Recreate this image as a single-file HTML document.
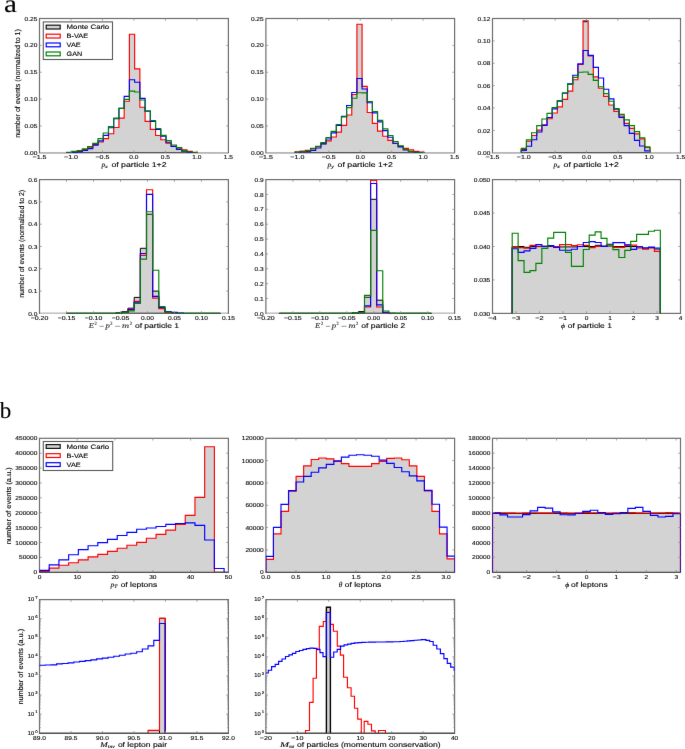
<!DOCTYPE html>
<html><head><meta charset="utf-8"><style>
html,body{margin:0;padding:0;background:#fff;}
svg{display:block;}
text{text-rendering:geometricPrecision;stroke:currentColor;stroke-width:0.12px;}
#w{width:685px;height:749px;}
</style></head><body><div id="w">
<svg width="685" height="749" viewBox="0 0 685 749">
<defs><filter id="bl" x="0" y="0" width="685" height="749" filterUnits="userSpaceOnUse" primitiveUnits="userSpaceOnUse" color-interpolation-filters="sRGB"><feConvolveMatrix order="3" kernelMatrix="0.0028 0.0470 0.0028 0.0470 0.8008 0.0470 0.0028 0.0470 0.0028" edgeMode="duplicate" preserveAlpha="true"/></filter></defs>
<g filter="url(#bl)"><rect width="685" height="749" fill="#fff"/>
<text x="4.1" y="11.9" font-family="Liberation Serif" font-size="25" textLength="12.9" lengthAdjust="spacingAndGlyphs" fill="#000">a</text>
<text x="-0.3" y="418" font-family="Liberation Serif" font-size="23" fill="#000">b</text>
<rect x="39.5" y="18.5" width="188.9" height="134.3" fill="none" stroke="#6e6e6e" stroke-width="1.2"/>
<line x1="40.1" y1="152.8" x2="227.8" y2="152.8" stroke="#c4c4c4" stroke-width="1.2"/>
<clipPath id="c1"><rect x="39.5" y="18.5" width="188.9" height="134.3"/></clipPath>
<g clip-path="url(#c1)">
<path d="M66.64,152.8V152.6H71.87V152H77.1V151.5H82.33V149.6H87.56V147.2H92.79V144.3H98.02V142H103.25V138.6H108.48V133.7H113.71V127.5H118.94V118.1H124.17V101.2H129.4V34.2H134.63V68.9H139.86V107.2H145.09V121.3H150.32V129.4H155.55V135.5H160.78V139.7H166.01V143.1H171.24V146.3H176.47V148.2H181.7V149.8H186.93V151.4H192.16V152.2H197.39V152.8Z" fill="#d3d3d3" stroke="none"/>
<path d="M66.64,152.8H197.39" stroke="#000" stroke-width="1.1"/>
<path d="M66.64,152.8V152.6H71.87V152H77.1V151.5H82.33V149.6H87.56V147.2H92.79V144.3H98.02V142H103.25V138.6H108.48V133.7H113.71V127.5H118.94V118.1H124.17V101.2H129.4V34.2H134.63V68.9H139.86V107.2H145.09V121.3H150.32V129.4H155.55V135.5H160.78V139.7H166.01V143.1H171.24V146.3H176.47V148.2H181.7V149.8H186.93V151.4H192.16V152.2H197.39V152.8" fill="none" stroke="#ff0000" stroke-width="1.15" stroke-linejoin="miter"/>
<path d="M66.64,152.8V152.7H71.87V152.3H77.1V152H82.33V150.3H87.56V148.6H92.79V145.1H98.02V140.8H103.25V135.3H108.48V127.7H113.71V118.7H118.94V108.3H124.17V96.4H129.4V79.7H134.63V82.2H139.86V98.3H145.09V111.1H150.32V121.3H155.55V129.5H160.78V136.1H166.01V142.2H171.24V146.3H176.47V149.5H181.7V151.1H186.93V152.3H192.16V152.6H197.39V152.8" fill="none" stroke="#0000ff" stroke-width="1.15" stroke-linejoin="miter"/>
<path d="M66.64,152.8V152.2H71.87V151.3H77.1V150.5H82.33V148.8H87.56V146.5H92.79V143.4H98.02V138.6H103.25V133H108.48V126.6H113.71V118.1H118.94V108.3H124.17V99.3H129.4V91.1H134.63V92H139.86V100H145.09V111.1H150.32V120.5H155.55V128.5H160.78V135.3H166.01V140.6H171.24V145H176.47V147.6H181.7V151.1H186.93V152H192.16V152.5H197.39V152.8" fill="none" stroke="#008000" stroke-width="1.15" stroke-linejoin="miter"/>
</g>
<rect x="265.9" y="18.5" width="188.7" height="134.3" fill="none" stroke="#6e6e6e" stroke-width="1.2"/>
<line x1="266.5" y1="152.8" x2="454" y2="152.8" stroke="#c4c4c4" stroke-width="1.2"/>
<clipPath id="c2"><rect x="265.9" y="18.5" width="188.7" height="134.3"/></clipPath>
<g clip-path="url(#c2)">
<path d="M295.1,152.8V151.8H300.25V151.1H305.4V150.3H310.56V148.6H315.71V146.5H320.86V143.6H326.01V140.8H331.16V137H336.32V132.1H341.47V125.3H346.62V115H351.77V94.5H356.92V24.2H362.08V86.3H367.23V112.5H372.38V123.4H377.53V131.1H382.68V136.2H387.84V140.3H392.99V143.5H398.14V146.4H403.29V148.3H408.44V149.8H413.6V151.3H418.75V152H423.9V152.8Z" fill="#d3d3d3" stroke="none"/>
<path d="M295.1,152.8H423.9" stroke="#000" stroke-width="1.1"/>
<path d="M295.1,152.8V151.8H300.25V151.1H305.4V150.3H310.56V148.6H315.71V146.5H320.86V143.6H326.01V140.8H331.16V137H336.32V132.1H341.47V125.3H346.62V115H351.77V94.5H356.92V24.2H362.08V86.3H367.23V112.5H372.38V123.4H377.53V131.1H382.68V136.2H387.84V140.3H392.99V143.5H398.14V146.4H403.29V148.3H408.44V149.8H413.6V151.3H418.75V152H423.9V152.8" fill="none" stroke="#ff0000" stroke-width="1.15" stroke-linejoin="miter"/>
<path d="M295.1,152.8V152.5H300.25V152H305.4V151.6H310.56V150.3H315.71V148H320.86V143.9H326.01V139H331.16V132.9H336.32V125.3H341.47V116.4H346.62V105.5H351.77V92.5H356.92V78.5H362.08V89H367.23V102.7H372.38V112.9H377.53V121.9H382.68V130.6H387.84V137.2H392.99V143.2H398.14V146.9H403.29V150H408.44V151.5H413.6V152.2H418.75V152.6H423.9V152.8" fill="none" stroke="#0000ff" stroke-width="1.15" stroke-linejoin="miter"/>
<path d="M295.1,152.8V152.1H300.25V151.7H305.4V151H310.56V148.2H315.71V146.2H320.86V142.6H326.01V137.5H331.16V131.4H336.32V124.5H341.47V116.8H346.62V107.6H351.77V98.2H356.92V92.7H362.08V92.8H367.23V101.5H372.38V111.5H377.53V120.4H382.68V128.8H387.84V135.5H392.99V141.6H398.14V145.7H403.29V149.5H408.44V151.5H413.6V152H418.75V152.5H423.9V152.8" fill="none" stroke="#008000" stroke-width="1.15" stroke-linejoin="miter"/>
</g>
<rect x="492.5" y="18.5" width="188" height="134.3" fill="none" stroke="#6e6e6e" stroke-width="1.2"/>
<line x1="493.1" y1="152.8" x2="679.9" y2="152.8" stroke="#c4c4c4" stroke-width="1.2"/>
<clipPath id="c3"><rect x="492.5" y="18.5" width="188" height="134.3"/></clipPath>
<g clip-path="url(#c3)">
<path d="M521.3,152.8V149.4H526.44V141.2H531.59V135.5H536.73V130.1H541.88V124.7H547.02V118.7H552.16V113H557.31V106.9H562.45V99.3H567.6V91.1H572.74V79.7H577.88V64.5H583.03V20.7H588.17V55.9H593.32V76.9H598.46V88.2H603.6V96.4H608.75V105H613.89V111.4H619.04V116H624.18V123.3H629.32V128.4H634.47V133.8H639.61V138.9H644.76V147.5H649.9V152.8Z" fill="#d3d3d3" stroke="none"/>
<path d="M521.3,152.8H649.9" stroke="#000" stroke-width="1.1"/>
<path d="M521.3,152.8V149.4H526.44V141.2H531.59V135.5H536.73V130.1H541.88V124.7H547.02V118.7H552.16V113H557.31V106.9H562.45V99.3H567.6V91.1H572.74V79.7H577.88V64.5H583.03V20.7H588.17V55.9H593.32V76.9H598.46V88.2H603.6V96.4H608.75V105H613.89V111.4H619.04V116H624.18V123.3H629.32V128.4H634.47V133.8H639.61V138.9H644.76V147.5H649.9V152.8" fill="none" stroke="#ff0000" stroke-width="1.15" stroke-linejoin="miter"/>
<path d="M521.3,152.8V150.3H526.44V146.2H531.59V139.7H536.73V132H541.88V125.3H547.02V117.5H552.16V108.8H557.31V101.2H562.45V93.2H567.6V83.8H572.74V75.2H577.88V63.8H583.03V50.5H588.17V55.3H593.32V67.4H598.46V78H603.6V89.2H608.75V98.8H613.89V109.2H619.04V117.4H624.18V125.6H629.32V133.3H634.47V140.4H639.61V146H644.76V150.8H649.9V152.8" fill="none" stroke="#0000ff" stroke-width="1.15" stroke-linejoin="miter"/>
<path d="M521.3,152.8V148.4H526.44V139.9H531.59V132.7H536.73V125.6H541.88V119H547.02V113.3H552.16V107.6H557.31V100.6H562.45V92.7H567.6V84.4H572.74V77.3H577.88V72.2H583.03V72H588.17V74.3H593.32V80.3H598.46V86.7H603.6V93.6H608.75V101.2H613.89V108.6H619.04V114.3H624.18V119.9H629.32V125.6H634.47V131.6H639.61V137.7H644.76V146.8H649.9V152.8" fill="none" stroke="#008000" stroke-width="1.15" stroke-linejoin="miter"/>
</g>
<path d="M583.4,21.7H587.5" stroke="#000" stroke-width="0.9"/>
<path d="M70.98,152.8v-2.2M70.98,18.5v2.2M102.47,152.8v-2.2M102.47,18.5v2.2M133.95,152.8v-2.2M133.95,18.5v2.2M165.43,152.8v-2.2M165.43,18.5v2.2M196.92,152.8v-2.2M196.92,18.5v2.2M39.5,125.94h2.2M228.4,125.94h-2.2M39.5,99.08h2.2M228.4,99.08h-2.2M39.5,72.22h2.2M228.4,72.22h-2.2M39.5,45.36h2.2M228.4,45.36h-2.2" stroke="#8a8a8a" stroke-width="0.8" fill="none"/>
<text x="39.5" y="159.2" font-family="Liberation Sans" font-size="5.8" text-anchor="middle" textLength="13.96" lengthAdjust="spacingAndGlyphs" fill="#000" fill-opacity="0.95">−1.5</text>
<text x="70.98" y="159.2" font-family="Liberation Sans" font-size="5.8" text-anchor="middle" textLength="13.96" lengthAdjust="spacingAndGlyphs" fill="#000" fill-opacity="0.95">−1.0</text>
<text x="102.47" y="159.2" font-family="Liberation Sans" font-size="5.8" text-anchor="middle" textLength="13.96" lengthAdjust="spacingAndGlyphs" fill="#000" fill-opacity="0.95">−0.5</text>
<text x="133.95" y="159.2" font-family="Liberation Sans" font-size="5.8" text-anchor="middle" textLength="9.14" lengthAdjust="spacingAndGlyphs" fill="#000" fill-opacity="0.95">0.0</text>
<text x="165.43" y="159.2" font-family="Liberation Sans" font-size="5.8" text-anchor="middle" textLength="9.14" lengthAdjust="spacingAndGlyphs" fill="#000" fill-opacity="0.95">0.5</text>
<text x="196.92" y="159.2" font-family="Liberation Sans" font-size="5.8" text-anchor="middle" textLength="9.14" lengthAdjust="spacingAndGlyphs" fill="#000" fill-opacity="0.95">1.0</text>
<text x="228.4" y="159.2" font-family="Liberation Sans" font-size="5.8" text-anchor="middle" textLength="9.14" lengthAdjust="spacingAndGlyphs" fill="#000" fill-opacity="0.95">1.5</text>
<text x="37.3" y="154.9" font-family="Liberation Sans" font-size="5.8" text-anchor="end" textLength="12.8" lengthAdjust="spacingAndGlyphs" fill="#000" fill-opacity="0.95">0.00</text>
<text x="37.3" y="128.04" font-family="Liberation Sans" font-size="5.8" text-anchor="end" textLength="12.8" lengthAdjust="spacingAndGlyphs" fill="#000" fill-opacity="0.95">0.05</text>
<text x="37.3" y="101.18" font-family="Liberation Sans" font-size="5.8" text-anchor="end" textLength="12.8" lengthAdjust="spacingAndGlyphs" fill="#000" fill-opacity="0.95">0.10</text>
<text x="37.3" y="74.32" font-family="Liberation Sans" font-size="5.8" text-anchor="end" textLength="12.8" lengthAdjust="spacingAndGlyphs" fill="#000" fill-opacity="0.95">0.15</text>
<text x="37.3" y="47.46" font-family="Liberation Sans" font-size="5.8" text-anchor="end" textLength="12.8" lengthAdjust="spacingAndGlyphs" fill="#000" fill-opacity="0.95">0.20</text>
<text x="37.3" y="20.6" font-family="Liberation Sans" font-size="5.8" text-anchor="end" textLength="12.8" lengthAdjust="spacingAndGlyphs" fill="#000" fill-opacity="0.95">0.25</text>
<path d="M297.35,152.8v-2.2M297.35,18.5v2.2M328.8,152.8v-2.2M328.8,18.5v2.2M360.25,152.8v-2.2M360.25,18.5v2.2M391.7,152.8v-2.2M391.7,18.5v2.2M423.15,152.8v-2.2M423.15,18.5v2.2M265.9,125.94h2.2M454.6,125.94h-2.2M265.9,99.08h2.2M454.6,99.08h-2.2M265.9,72.22h2.2M454.6,72.22h-2.2M265.9,45.36h2.2M454.6,45.36h-2.2" stroke="#8a8a8a" stroke-width="0.8" fill="none"/>
<text x="265.9" y="159.2" font-family="Liberation Sans" font-size="5.8" text-anchor="middle" textLength="13.96" lengthAdjust="spacingAndGlyphs" fill="#000" fill-opacity="0.95">−1.5</text>
<text x="297.35" y="159.2" font-family="Liberation Sans" font-size="5.8" text-anchor="middle" textLength="13.96" lengthAdjust="spacingAndGlyphs" fill="#000" fill-opacity="0.95">−1.0</text>
<text x="328.8" y="159.2" font-family="Liberation Sans" font-size="5.8" text-anchor="middle" textLength="13.96" lengthAdjust="spacingAndGlyphs" fill="#000" fill-opacity="0.95">−0.5</text>
<text x="360.25" y="159.2" font-family="Liberation Sans" font-size="5.8" text-anchor="middle" textLength="9.14" lengthAdjust="spacingAndGlyphs" fill="#000" fill-opacity="0.95">0.0</text>
<text x="391.7" y="159.2" font-family="Liberation Sans" font-size="5.8" text-anchor="middle" textLength="9.14" lengthAdjust="spacingAndGlyphs" fill="#000" fill-opacity="0.95">0.5</text>
<text x="423.15" y="159.2" font-family="Liberation Sans" font-size="5.8" text-anchor="middle" textLength="9.14" lengthAdjust="spacingAndGlyphs" fill="#000" fill-opacity="0.95">1.0</text>
<text x="454.6" y="159.2" font-family="Liberation Sans" font-size="5.8" text-anchor="middle" textLength="9.14" lengthAdjust="spacingAndGlyphs" fill="#000" fill-opacity="0.95">1.5</text>
<text x="263.7" y="154.9" font-family="Liberation Sans" font-size="5.8" text-anchor="end" textLength="12.8" lengthAdjust="spacingAndGlyphs" fill="#000" fill-opacity="0.95">0.00</text>
<text x="263.7" y="128.04" font-family="Liberation Sans" font-size="5.8" text-anchor="end" textLength="12.8" lengthAdjust="spacingAndGlyphs" fill="#000" fill-opacity="0.95">0.05</text>
<text x="263.7" y="101.18" font-family="Liberation Sans" font-size="5.8" text-anchor="end" textLength="12.8" lengthAdjust="spacingAndGlyphs" fill="#000" fill-opacity="0.95">0.10</text>
<text x="263.7" y="74.32" font-family="Liberation Sans" font-size="5.8" text-anchor="end" textLength="12.8" lengthAdjust="spacingAndGlyphs" fill="#000" fill-opacity="0.95">0.15</text>
<text x="263.7" y="47.46" font-family="Liberation Sans" font-size="5.8" text-anchor="end" textLength="12.8" lengthAdjust="spacingAndGlyphs" fill="#000" fill-opacity="0.95">0.20</text>
<text x="263.7" y="20.6" font-family="Liberation Sans" font-size="5.8" text-anchor="end" textLength="12.8" lengthAdjust="spacingAndGlyphs" fill="#000" fill-opacity="0.95">0.25</text>
<path d="M523.83,152.8v-2.2M523.83,18.5v2.2M555.17,152.8v-2.2M555.17,18.5v2.2M586.5,152.8v-2.2M586.5,18.5v2.2M617.83,152.8v-2.2M617.83,18.5v2.2M649.17,152.8v-2.2M649.17,18.5v2.2M492.5,130.42h2.2M680.5,130.42h-2.2M492.5,108.03h2.2M680.5,108.03h-2.2M492.5,85.65h2.2M680.5,85.65h-2.2M492.5,63.27h2.2M680.5,63.27h-2.2M492.5,40.88h2.2M680.5,40.88h-2.2" stroke="#8a8a8a" stroke-width="0.8" fill="none"/>
<text x="492.5" y="159.2" font-family="Liberation Sans" font-size="5.8" text-anchor="middle" textLength="13.96" lengthAdjust="spacingAndGlyphs" fill="#000" fill-opacity="0.95">−1.5</text>
<text x="523.83" y="159.2" font-family="Liberation Sans" font-size="5.8" text-anchor="middle" textLength="13.96" lengthAdjust="spacingAndGlyphs" fill="#000" fill-opacity="0.95">−1.0</text>
<text x="555.17" y="159.2" font-family="Liberation Sans" font-size="5.8" text-anchor="middle" textLength="13.96" lengthAdjust="spacingAndGlyphs" fill="#000" fill-opacity="0.95">−0.5</text>
<text x="586.5" y="159.2" font-family="Liberation Sans" font-size="5.8" text-anchor="middle" textLength="9.14" lengthAdjust="spacingAndGlyphs" fill="#000" fill-opacity="0.95">0.0</text>
<text x="617.83" y="159.2" font-family="Liberation Sans" font-size="5.8" text-anchor="middle" textLength="9.14" lengthAdjust="spacingAndGlyphs" fill="#000" fill-opacity="0.95">0.5</text>
<text x="649.17" y="159.2" font-family="Liberation Sans" font-size="5.8" text-anchor="middle" textLength="9.14" lengthAdjust="spacingAndGlyphs" fill="#000" fill-opacity="0.95">1.0</text>
<text x="680.5" y="159.2" font-family="Liberation Sans" font-size="5.8" text-anchor="middle" textLength="9.14" lengthAdjust="spacingAndGlyphs" fill="#000" fill-opacity="0.95">1.5</text>
<text x="490.3" y="154.9" font-family="Liberation Sans" font-size="5.8" text-anchor="end" textLength="12.8" lengthAdjust="spacingAndGlyphs" fill="#000" fill-opacity="0.95">0.00</text>
<text x="490.3" y="132.52" font-family="Liberation Sans" font-size="5.8" text-anchor="end" textLength="12.8" lengthAdjust="spacingAndGlyphs" fill="#000" fill-opacity="0.95">0.02</text>
<text x="490.3" y="110.13" font-family="Liberation Sans" font-size="5.8" text-anchor="end" textLength="12.8" lengthAdjust="spacingAndGlyphs" fill="#000" fill-opacity="0.95">0.04</text>
<text x="490.3" y="87.75" font-family="Liberation Sans" font-size="5.8" text-anchor="end" textLength="12.8" lengthAdjust="spacingAndGlyphs" fill="#000" fill-opacity="0.95">0.06</text>
<text x="490.3" y="65.37" font-family="Liberation Sans" font-size="5.8" text-anchor="end" textLength="12.8" lengthAdjust="spacingAndGlyphs" fill="#000" fill-opacity="0.95">0.08</text>
<text x="490.3" y="42.98" font-family="Liberation Sans" font-size="5.8" text-anchor="end" textLength="12.8" lengthAdjust="spacingAndGlyphs" fill="#000" fill-opacity="0.95">0.10</text>
<text x="490.3" y="20.6" font-family="Liberation Sans" font-size="5.8" text-anchor="end" textLength="12.8" lengthAdjust="spacingAndGlyphs" fill="#000" fill-opacity="0.95">0.12</text>
<rect x="39.5" y="179.6" width="188.9" height="133.8" fill="none" stroke="#6e6e6e" stroke-width="1.2"/>
<line x1="40.1" y1="313.4" x2="227.8" y2="313.4" stroke="#c4c4c4" stroke-width="1.2"/>
<clipPath id="c4"><rect x="39.5" y="179.6" width="188.9" height="133.8"/></clipPath>
<g clip-path="url(#c4)">
<path d="M66.55,313.4V314.3H72.7V314.3H78.85V314.3H85V314.3H91.15V314.3H97.3V314.3H103.45V314.3H109.6V314.3H115.75V312.9H121.9V311.7H128.05V308.2H134.2V297.4H140.35V248.3H146.5V214.2H152.65V291.1H158.8V308H164.95V312H171.1V312.9H177.25V314.3H183.4V314.3H189.55V314.3H195.7V314.3H201.85V314.3H208V314.3H214.15V314.3H220.3V313.4Z" fill="#d3d3d3" stroke="none"/>
<path d="M66.55,313.4H220.3" stroke="#000" stroke-width="1.1"/>
<path d="M66.55,313.4V314.3H72.7V314.3H78.85V314.3H85V314.3H91.15V314.3H97.3V314.3H103.45V314.3H109.6V314.3H115.75V312.9H121.9V311.7H128.05V308.2H134.2V297.4H140.35V248.3H146.5V214.2H152.65V291.1H158.8V308H164.95V312H171.1V312.9H177.25V314.3H183.4V314.3H189.55V314.3H195.7V314.3H201.85V314.3H208V314.3H214.15V314.3H220.3V313.4" fill="none" stroke="#000" stroke-width="1.0" stroke-linejoin="miter"/>
<path d="M66.55,313.4V314.3H72.7V314.3H78.85V314.3H85V314.3H91.15V314.3H97.3V314.3H103.45V314.3H109.6V314.3H115.75V314.3H121.9V312.4H128.05V308.75H134.2V301.3H140.35V255.4H146.5V189.7H152.65V298.1H158.8V308.6H164.95V312.3H171.1V313H177.25V314.3H183.4V314.3H189.55V314.3H195.7V314.3H201.85V314.3H208V314.3H214.15V314.3H220.3V313.4" fill="none" stroke="#ff0000" stroke-width="1.15" stroke-linejoin="miter"/>
<path d="M66.55,313.4V314.3H72.7V314.3H78.85V314.3H85V314.3H91.15V314.3H97.3V314.3H103.45V314.3H109.6V314.3H115.75V314.3H121.9V312.4H128.05V309.6H134.2V302.2H140.35V253.5H146.5V194.3H152.65V296.4H158.8V307.4H164.95V311.5H171.1V312.4H177.25V313H183.4V314.3H189.55V314.3H195.7V314.3H201.85V314.3H208V314.3H214.15V314.3H220.3V313.4" fill="none" stroke="#0000ff" stroke-width="1.15" stroke-linejoin="miter"/>
<path d="M66.55,313.4V313.4H72.7V313.4H78.85V313.4H85V313.4H91.15V313.4H97.3V313.4H103.45V313.4H109.6V313.4H115.75V313.4H121.9V312.4H128.05V310.8H134.2V303.5H140.35V259.1H146.5V211.7H152.65V270.2H158.8V306.6H164.95V312.1H171.1V313H177.25V313.4H183.4V313.4H189.55V313.4H195.7V313.4H201.85V313.4H208V313.4H214.15V313.4H220.3V313.4" fill="none" stroke="#008000" stroke-width="1.15" stroke-linejoin="miter"/>
</g>
<rect x="265.9" y="179.6" width="188.7" height="133.8" fill="none" stroke="#6e6e6e" stroke-width="1.2"/>
<line x1="266.5" y1="313.4" x2="454" y2="313.4" stroke="#c4c4c4" stroke-width="1.2"/>
<clipPath id="c5"><rect x="265.9" y="179.6" width="188.7" height="133.8"/></clipPath>
<g clip-path="url(#c5)">
<path d="M279.3,313.4V314.3H285.38V314.3H291.47V314.3H297.56V314.3H303.64V314.3H309.73V314.3H315.81V314.3H321.89V314.3H327.98V314.3H334.06V314.3H340.15V314.3H346.24V314.3H352.32V313H358.41V311.6H364.49V297.2H370.58V199.3H376.66V300.2H382.75V312.5H388.83V314.3H394.92V314.3H401V314.3H407.09V314.3H413.17V314.3H419.25V314.3H425.34V314.3H431.43V313.4Z" fill="#d3d3d3" stroke="none"/>
<path d="M279.3,313.4H431.43" stroke="#000" stroke-width="1.1"/>
<path d="M279.3,313.4V314.3H285.38V314.3H291.47V314.3H297.56V314.3H303.64V314.3H309.73V314.3H315.81V314.3H321.89V314.3H327.98V314.3H334.06V314.3H340.15V314.3H346.24V314.3H352.32V313H358.41V311.6H364.49V297.2H370.58V199.3H376.66V300.2H382.75V312.5H388.83V314.3H394.92V314.3H401V314.3H407.09V314.3H413.17V314.3H419.25V314.3H425.34V314.3H431.43V313.4" fill="none" stroke="#000" stroke-width="1.0" stroke-linejoin="miter"/>
<path d="M279.3,313.4V314.3H285.38V314.3H291.47V314.3H297.56V314.3H303.64V314.3H309.73V314.3H315.81V314.3H321.89V314.3H327.98V314.3H334.06V314.3H340.15V314.3H346.24V314.3H352.32V314.3H358.41V313H364.49V307H370.58V180.5H376.66V307H382.75V312.5H388.83V314.3H394.92V314.3H401V314.3H407.09V314.3H413.17V314.3H419.25V314.3H425.34V314.3H431.43V313.4" fill="none" stroke="#ff0000" stroke-width="1.15" stroke-linejoin="miter"/>
<path d="M279.3,313.4V314.3H285.38V314.3H291.47V314.3H297.56V314.3H303.64V314.3H309.73V314.3H315.81V314.3H321.89V314.3H327.98V314.3H334.06V314.3H340.15V314.3H346.24V314.3H352.32V314.3H358.41V312.6H364.49V305.8H370.58V183.5H376.66V304.9H382.75V312.2H388.83V314.3H394.92V314.3H401V314.3H407.09V314.3H413.17V314.3H419.25V314.3H425.34V314.3H431.43V313.4" fill="none" stroke="#0000ff" stroke-width="1.15" stroke-linejoin="miter"/>
<path d="M279.3,313.4V313.4H285.38V313.4H291.47V313.4H297.56V313.4H303.64V313.4H309.73V313.4H315.81V313.4H321.89V313.4H327.98V313.4H334.06V313.4H340.15V313.4H346.24V313.4H352.32V312.6H358.41V312.6H364.49V295.4H370.58V230.4H376.66V270.7H382.75V311H388.83V313H394.92V313.4H401V313.4H407.09V313.4H413.17V313.4H419.25V313.4H425.34V313.4H431.43V313.4" fill="none" stroke="#008000" stroke-width="1.15" stroke-linejoin="miter"/>
</g>
<path d="M66.49,313.4v-2.2M66.49,179.6v2.2M93.47,313.4v-2.2M93.47,179.6v2.2M120.46,313.4v-2.2M120.46,179.6v2.2M147.44,313.4v-2.2M147.44,179.6v2.2M174.43,313.4v-2.2M174.43,179.6v2.2M201.41,313.4v-2.2M201.41,179.6v2.2M39.5,291.1h2.2M228.4,291.1h-2.2M39.5,268.8h2.2M228.4,268.8h-2.2M39.5,246.5h2.2M228.4,246.5h-2.2M39.5,224.2h2.2M228.4,224.2h-2.2M39.5,201.9h2.2M228.4,201.9h-2.2" stroke="#8a8a8a" stroke-width="0.8" fill="none"/>
<text x="39.5" y="319.8" font-family="Liberation Sans" font-size="5.8" text-anchor="middle" textLength="17.62" lengthAdjust="spacingAndGlyphs" fill="#000" fill-opacity="0.95">−0.20</text>
<text x="66.49" y="319.8" font-family="Liberation Sans" font-size="5.8" text-anchor="middle" textLength="17.62" lengthAdjust="spacingAndGlyphs" fill="#000" fill-opacity="0.95">−0.15</text>
<text x="93.47" y="319.8" font-family="Liberation Sans" font-size="5.8" text-anchor="middle" textLength="17.62" lengthAdjust="spacingAndGlyphs" fill="#000" fill-opacity="0.95">−0.10</text>
<text x="120.46" y="319.8" font-family="Liberation Sans" font-size="5.8" text-anchor="middle" textLength="17.62" lengthAdjust="spacingAndGlyphs" fill="#000" fill-opacity="0.95">−0.05</text>
<text x="147.44" y="319.8" font-family="Liberation Sans" font-size="5.8" text-anchor="middle" textLength="12.8" lengthAdjust="spacingAndGlyphs" fill="#000" fill-opacity="0.95">0.00</text>
<text x="174.43" y="319.8" font-family="Liberation Sans" font-size="5.8" text-anchor="middle" textLength="12.8" lengthAdjust="spacingAndGlyphs" fill="#000" fill-opacity="0.95">0.05</text>
<text x="201.41" y="319.8" font-family="Liberation Sans" font-size="5.8" text-anchor="middle" textLength="12.8" lengthAdjust="spacingAndGlyphs" fill="#000" fill-opacity="0.95">0.10</text>
<text x="228.4" y="319.8" font-family="Liberation Sans" font-size="5.8" text-anchor="middle" textLength="12.8" lengthAdjust="spacingAndGlyphs" fill="#000" fill-opacity="0.95">0.15</text>
<text x="37.3" y="315.5" font-family="Liberation Sans" font-size="5.8" text-anchor="end" textLength="9.14" lengthAdjust="spacingAndGlyphs" fill="#000" fill-opacity="0.95">0.0</text>
<text x="37.3" y="293.2" font-family="Liberation Sans" font-size="5.8" text-anchor="end" textLength="9.14" lengthAdjust="spacingAndGlyphs" fill="#000" fill-opacity="0.95">0.1</text>
<text x="37.3" y="270.9" font-family="Liberation Sans" font-size="5.8" text-anchor="end" textLength="9.14" lengthAdjust="spacingAndGlyphs" fill="#000" fill-opacity="0.95">0.2</text>
<text x="37.3" y="248.6" font-family="Liberation Sans" font-size="5.8" text-anchor="end" textLength="9.14" lengthAdjust="spacingAndGlyphs" fill="#000" fill-opacity="0.95">0.3</text>
<text x="37.3" y="226.3" font-family="Liberation Sans" font-size="5.8" text-anchor="end" textLength="9.14" lengthAdjust="spacingAndGlyphs" fill="#000" fill-opacity="0.95">0.4</text>
<text x="37.3" y="204" font-family="Liberation Sans" font-size="5.8" text-anchor="end" textLength="9.14" lengthAdjust="spacingAndGlyphs" fill="#000" fill-opacity="0.95">0.5</text>
<text x="37.3" y="181.7" font-family="Liberation Sans" font-size="5.8" text-anchor="end" textLength="9.14" lengthAdjust="spacingAndGlyphs" fill="#000" fill-opacity="0.95">0.6</text>
<path d="M292.86,313.4v-2.2M292.86,179.6v2.2M319.81,313.4v-2.2M319.81,179.6v2.2M346.77,313.4v-2.2M346.77,179.6v2.2M373.73,313.4v-2.2M373.73,179.6v2.2M400.69,313.4v-2.2M400.69,179.6v2.2M427.64,313.4v-2.2M427.64,179.6v2.2M265.9,298.53h2.2M454.6,298.53h-2.2M265.9,283.67h2.2M454.6,283.67h-2.2M265.9,268.8h2.2M454.6,268.8h-2.2M265.9,253.93h2.2M454.6,253.93h-2.2M265.9,239.07h2.2M454.6,239.07h-2.2M265.9,224.2h2.2M454.6,224.2h-2.2M265.9,209.33h2.2M454.6,209.33h-2.2M265.9,194.47h2.2M454.6,194.47h-2.2" stroke="#8a8a8a" stroke-width="0.8" fill="none"/>
<text x="265.9" y="319.8" font-family="Liberation Sans" font-size="5.8" text-anchor="middle" textLength="17.62" lengthAdjust="spacingAndGlyphs" fill="#000" fill-opacity="0.95">−0.20</text>
<text x="292.86" y="319.8" font-family="Liberation Sans" font-size="5.8" text-anchor="middle" textLength="17.62" lengthAdjust="spacingAndGlyphs" fill="#000" fill-opacity="0.95">−0.15</text>
<text x="319.81" y="319.8" font-family="Liberation Sans" font-size="5.8" text-anchor="middle" textLength="17.62" lengthAdjust="spacingAndGlyphs" fill="#000" fill-opacity="0.95">−0.10</text>
<text x="346.77" y="319.8" font-family="Liberation Sans" font-size="5.8" text-anchor="middle" textLength="17.62" lengthAdjust="spacingAndGlyphs" fill="#000" fill-opacity="0.95">−0.05</text>
<text x="373.73" y="319.8" font-family="Liberation Sans" font-size="5.8" text-anchor="middle" textLength="12.8" lengthAdjust="spacingAndGlyphs" fill="#000" fill-opacity="0.95">0.00</text>
<text x="400.69" y="319.8" font-family="Liberation Sans" font-size="5.8" text-anchor="middle" textLength="12.8" lengthAdjust="spacingAndGlyphs" fill="#000" fill-opacity="0.95">0.05</text>
<text x="427.64" y="319.8" font-family="Liberation Sans" font-size="5.8" text-anchor="middle" textLength="12.8" lengthAdjust="spacingAndGlyphs" fill="#000" fill-opacity="0.95">0.10</text>
<text x="454.6" y="319.8" font-family="Liberation Sans" font-size="5.8" text-anchor="middle" textLength="12.8" lengthAdjust="spacingAndGlyphs" fill="#000" fill-opacity="0.95">0.15</text>
<text x="263.7" y="315.5" font-family="Liberation Sans" font-size="5.8" text-anchor="end" textLength="9.14" lengthAdjust="spacingAndGlyphs" fill="#000" fill-opacity="0.95">0.0</text>
<text x="263.7" y="300.63" font-family="Liberation Sans" font-size="5.8" text-anchor="end" textLength="9.14" lengthAdjust="spacingAndGlyphs" fill="#000" fill-opacity="0.95">0.1</text>
<text x="263.7" y="285.77" font-family="Liberation Sans" font-size="5.8" text-anchor="end" textLength="9.14" lengthAdjust="spacingAndGlyphs" fill="#000" fill-opacity="0.95">0.2</text>
<text x="263.7" y="270.9" font-family="Liberation Sans" font-size="5.8" text-anchor="end" textLength="9.14" lengthAdjust="spacingAndGlyphs" fill="#000" fill-opacity="0.95">0.3</text>
<text x="263.7" y="256.03" font-family="Liberation Sans" font-size="5.8" text-anchor="end" textLength="9.14" lengthAdjust="spacingAndGlyphs" fill="#000" fill-opacity="0.95">0.4</text>
<text x="263.7" y="241.17" font-family="Liberation Sans" font-size="5.8" text-anchor="end" textLength="9.14" lengthAdjust="spacingAndGlyphs" fill="#000" fill-opacity="0.95">0.5</text>
<text x="263.7" y="226.3" font-family="Liberation Sans" font-size="5.8" text-anchor="end" textLength="9.14" lengthAdjust="spacingAndGlyphs" fill="#000" fill-opacity="0.95">0.6</text>
<text x="263.7" y="211.43" font-family="Liberation Sans" font-size="5.8" text-anchor="end" textLength="9.14" lengthAdjust="spacingAndGlyphs" fill="#000" fill-opacity="0.95">0.7</text>
<text x="263.7" y="196.57" font-family="Liberation Sans" font-size="5.8" text-anchor="end" textLength="9.14" lengthAdjust="spacingAndGlyphs" fill="#000" fill-opacity="0.95">0.8</text>
<text x="263.7" y="181.7" font-family="Liberation Sans" font-size="5.8" text-anchor="end" textLength="9.14" lengthAdjust="spacingAndGlyphs" fill="#000" fill-opacity="0.95">0.9</text>
<rect x="492.5" y="179.6" width="188" height="133.8" fill="none" stroke="#6e6e6e" stroke-width="1.2"/>
<clipPath id="c6"><rect x="492.5" y="179.6" width="188" height="133.8"/></clipPath>
<g clip-path="url(#c6)">
<path d="M512.2,313.4V246.8H518.12V246.5H524.05V247.3H529.98V246.6H535.9V246.6H541.83V246.6H547.75V246.5H553.68V246.8H559.6V246.9H565.53V246.9H571.45V246.9H577.38V246.5H583.3V246.5H589.23V246.5H595.15V245.3H601.08V246.2H607V246H612.93V246.5H618.85V246.5H624.78V246.5H630.7V246.5H636.62V246.8H642.55V248H648.48V247.5H654.4V249H660.33V313.4Z" fill="#d3d3d3" stroke="none"/>
<path d="M512.2,313.4V246.8H518.12V246.5H524.05V247.3H529.98V246.6H535.9V246.6H541.83V246.6H547.75V246.5H553.68V246.8H559.6V246.9H565.53V246.9H571.45V246.9H577.38V246.5H583.3V246.5H589.23V246.5H595.15V245.3H601.08V246.2H607V246H612.93V246.5H618.85V246.5H624.78V246.5H630.7V246.5H636.62V246.8H642.55V248H648.48V247.5H654.4V249H660.33V313.4" fill="none" stroke="#000" stroke-width="1.0" stroke-linejoin="miter"/>
<path d="M512.2,313.4V247.3H518.12V247.6H524.05V248.2H529.98V245.4H535.9V246.2H541.83V246.2H547.75V246H553.68V246.5H559.6V244.6H565.53V244.6H571.45V245.6H577.38V244.7H583.3V245.4H589.23V247.6H595.15V246.3H601.08V246.2H607V244.6H612.93V247.3H618.85V247.3H624.78V245.1H630.7V245.1H636.62V248H642.55V249.2H648.48V248H654.4V251.3H660.33V313.4" fill="none" stroke="#ff0000" stroke-width="1.15" stroke-linejoin="miter"/>
<path d="M512.2,313.4V248.7H518.12V252.4H524.05V250.9H529.98V248.4H535.9V244.6H541.83V246.3H547.75V245.6H553.68V247.3H559.6V250.2H565.53V250.2H571.45V249.2H577.38V246.5H583.3V242.5H589.23V241.6H595.15V242.5H601.08V246.3H607V244.3H612.93V242.6H618.85V242.6H624.78V244.9H630.7V249.4H636.62V246.7H642.55V248H648.48V247.1H654.4V248H660.33V313.4" fill="none" stroke="#0000ff" stroke-width="1.15" stroke-linejoin="miter"/>
<path d="M512.2,313.4V233.2H518.12V260.6H524.05V272.4H529.98V270.6H535.9V263.3H541.83V248.4H547.75V238.1H553.68V232.3H559.6V232.3H565.53V252.4H571.45V266.3H577.38V266.3H583.3V249.5H589.23V235.1H595.15V231.9H601.08V238.4H607V244.7H612.93V249.6H618.85V257.5H624.78V250.4H630.7V241.4H636.62V234.3H642.55V234.3H648.48V231.2H654.4V230.2H660.33V313.4" fill="none" stroke="#008000" stroke-width="1.15" stroke-linejoin="miter"/>
</g>
<path d="M516,313.4v-2.2M516,179.6v2.2M539.5,313.4v-2.2M539.5,179.6v2.2M563,313.4v-2.2M563,179.6v2.2M586.5,313.4v-2.2M586.5,179.6v2.2M610,313.4v-2.2M610,179.6v2.2M633.5,313.4v-2.2M633.5,179.6v2.2M657,313.4v-2.2M657,179.6v2.2M492.5,279.95h2.2M680.5,279.95h-2.2M492.5,246.5h2.2M680.5,246.5h-2.2M492.5,213.05h2.2M680.5,213.05h-2.2" stroke="#8a8a8a" stroke-width="0.8" fill="none"/>
<text x="492.5" y="319.8" font-family="Liberation Sans" font-size="5.8" text-anchor="middle" textLength="8.48" lengthAdjust="spacingAndGlyphs" fill="#000" fill-opacity="0.95">−4</text>
<text x="516" y="319.8" font-family="Liberation Sans" font-size="5.8" text-anchor="middle" textLength="8.48" lengthAdjust="spacingAndGlyphs" fill="#000" fill-opacity="0.95">−3</text>
<text x="539.5" y="319.8" font-family="Liberation Sans" font-size="5.8" text-anchor="middle" textLength="8.48" lengthAdjust="spacingAndGlyphs" fill="#000" fill-opacity="0.95">−2</text>
<text x="563" y="319.8" font-family="Liberation Sans" font-size="5.8" text-anchor="middle" textLength="8.48" lengthAdjust="spacingAndGlyphs" fill="#000" fill-opacity="0.95">−1</text>
<text x="586.5" y="319.8" font-family="Liberation Sans" font-size="5.8" text-anchor="middle" textLength="3.66" lengthAdjust="spacingAndGlyphs" fill="#000" fill-opacity="0.95">0</text>
<text x="610" y="319.8" font-family="Liberation Sans" font-size="5.8" text-anchor="middle" textLength="3.66" lengthAdjust="spacingAndGlyphs" fill="#000" fill-opacity="0.95">1</text>
<text x="633.5" y="319.8" font-family="Liberation Sans" font-size="5.8" text-anchor="middle" textLength="3.66" lengthAdjust="spacingAndGlyphs" fill="#000" fill-opacity="0.95">2</text>
<text x="657" y="319.8" font-family="Liberation Sans" font-size="5.8" text-anchor="middle" textLength="3.66" lengthAdjust="spacingAndGlyphs" fill="#000" fill-opacity="0.95">3</text>
<text x="680.5" y="319.8" font-family="Liberation Sans" font-size="5.8" text-anchor="middle" textLength="3.66" lengthAdjust="spacingAndGlyphs" fill="#000" fill-opacity="0.95">4</text>
<text x="490.3" y="315.5" font-family="Liberation Sans" font-size="5.8" text-anchor="end" textLength="16.46" lengthAdjust="spacingAndGlyphs" fill="#000" fill-opacity="0.95">0.030</text>
<text x="490.3" y="282.05" font-family="Liberation Sans" font-size="5.8" text-anchor="end" textLength="16.46" lengthAdjust="spacingAndGlyphs" fill="#000" fill-opacity="0.95">0.035</text>
<text x="490.3" y="248.6" font-family="Liberation Sans" font-size="5.8" text-anchor="end" textLength="16.46" lengthAdjust="spacingAndGlyphs" fill="#000" fill-opacity="0.95">0.040</text>
<text x="490.3" y="215.15" font-family="Liberation Sans" font-size="5.8" text-anchor="end" textLength="16.46" lengthAdjust="spacingAndGlyphs" fill="#000" fill-opacity="0.95">0.045</text>
<text x="490.3" y="181.7" font-family="Liberation Sans" font-size="5.8" text-anchor="end" textLength="16.46" lengthAdjust="spacingAndGlyphs" fill="#000" fill-opacity="0.95">0.050</text>
<rect x="39.5" y="438.3" width="188.9" height="133.9" fill="none" stroke="#6e6e6e" stroke-width="1.2"/>
<clipPath id="c7"><rect x="39.5" y="438.3" width="188.9" height="133.9"/></clipPath>
<g clip-path="url(#c7)">
<path d="M39.5,572.2V571.5H49.22V568.1H58.93V565.2H68.65V562.7H78.36V559.8H88.08V556.9H97.8V554.4H107.51V551.4H117.23V548.2H126.94V545.2H136.66V542.4H146.38V538.2H156.09V534.3H165.81V530.1H175.52V524.4H185.24V515.3H194.96V497.3H204.67V446.7H214.39V572.2Z" fill="#d3d3d3" stroke="none"/>
<path d="M39.5,572.2V571.5H49.22V568.1H58.93V565.2H68.65V562.7H78.36V559.8H88.08V556.9H97.8V554.4H107.51V551.4H117.23V548.2H126.94V545.2H136.66V542.4H146.38V538.2H156.09V534.3H165.81V530.1H175.52V524.4H185.24V515.3H194.96V497.3H204.67V446.7H214.39V572.2" fill="none" stroke="#ff0000" stroke-width="1.15" stroke-linejoin="miter"/>
<path d="M39.5,572.2V570.3H49.22V564.9H58.93V559.8H68.65V554.7H78.36V549.6H88.08V545.7H97.8V542.6H107.51V539.4H117.23V535.5H126.94V532.4H136.66V529.2H146.38V528H156.09V526.5H165.81V524.4H175.52V523.5H185.24V522.9H194.96V525.3H204.67V540H214.39V568.5H224.1V572.2" fill="none" stroke="#0000ff" stroke-width="1.15" stroke-linejoin="miter"/>
</g>
<line x1="39.2" y1="572.2" x2="228.7" y2="572.2" stroke="#3c3c3c" stroke-width="1.1"/>
<path d="M77.28,572.2v-2.2M77.28,438.3v2.2M115.06,572.2v-2.2M115.06,438.3v2.2M152.84,572.2v-2.2M152.84,438.3v2.2M190.62,572.2v-2.2M190.62,438.3v2.2M39.5,557.32h2.2M228.4,557.32h-2.2M39.5,542.44h2.2M228.4,542.44h-2.2M39.5,527.57h2.2M228.4,527.57h-2.2M39.5,512.69h2.2M228.4,512.69h-2.2M39.5,497.81h2.2M228.4,497.81h-2.2M39.5,482.93h2.2M228.4,482.93h-2.2M39.5,468.06h2.2M228.4,468.06h-2.2M39.5,453.18h2.2M228.4,453.18h-2.2" stroke="#8a8a8a" stroke-width="0.8" fill="none"/>
<text x="39.5" y="578.6" font-family="Liberation Sans" font-size="5.8" text-anchor="middle" textLength="3.66" lengthAdjust="spacingAndGlyphs" fill="#000" fill-opacity="0.95">0</text>
<text x="77.28" y="578.6" font-family="Liberation Sans" font-size="5.8" text-anchor="middle" textLength="7.31" lengthAdjust="spacingAndGlyphs" fill="#000" fill-opacity="0.95">10</text>
<text x="115.06" y="578.6" font-family="Liberation Sans" font-size="5.8" text-anchor="middle" textLength="7.31" lengthAdjust="spacingAndGlyphs" fill="#000" fill-opacity="0.95">20</text>
<text x="152.84" y="578.6" font-family="Liberation Sans" font-size="5.8" text-anchor="middle" textLength="7.31" lengthAdjust="spacingAndGlyphs" fill="#000" fill-opacity="0.95">30</text>
<text x="190.62" y="578.6" font-family="Liberation Sans" font-size="5.8" text-anchor="middle" textLength="7.31" lengthAdjust="spacingAndGlyphs" fill="#000" fill-opacity="0.95">40</text>
<text x="228.4" y="578.6" font-family="Liberation Sans" font-size="5.8" text-anchor="middle" textLength="7.31" lengthAdjust="spacingAndGlyphs" fill="#000" fill-opacity="0.95">50</text>
<text x="37.3" y="574.3" font-family="Liberation Sans" font-size="5.8" text-anchor="end" textLength="3.66" lengthAdjust="spacingAndGlyphs" fill="#000" fill-opacity="0.95">0</text>
<text x="37.3" y="559.42" font-family="Liberation Sans" font-size="5.8" text-anchor="end" textLength="18.29" lengthAdjust="spacingAndGlyphs" fill="#000" fill-opacity="0.95">50000</text>
<text x="37.3" y="544.54" font-family="Liberation Sans" font-size="5.8" text-anchor="end" textLength="21.94" lengthAdjust="spacingAndGlyphs" fill="#000" fill-opacity="0.95">100000</text>
<text x="37.3" y="529.67" font-family="Liberation Sans" font-size="5.8" text-anchor="end" textLength="21.94" lengthAdjust="spacingAndGlyphs" fill="#000" fill-opacity="0.95">150000</text>
<text x="37.3" y="514.79" font-family="Liberation Sans" font-size="5.8" text-anchor="end" textLength="21.94" lengthAdjust="spacingAndGlyphs" fill="#000" fill-opacity="0.95">200000</text>
<text x="37.3" y="499.91" font-family="Liberation Sans" font-size="5.8" text-anchor="end" textLength="21.94" lengthAdjust="spacingAndGlyphs" fill="#000" fill-opacity="0.95">250000</text>
<text x="37.3" y="485.03" font-family="Liberation Sans" font-size="5.8" text-anchor="end" textLength="21.94" lengthAdjust="spacingAndGlyphs" fill="#000" fill-opacity="0.95">300000</text>
<text x="37.3" y="470.16" font-family="Liberation Sans" font-size="5.8" text-anchor="end" textLength="21.94" lengthAdjust="spacingAndGlyphs" fill="#000" fill-opacity="0.95">350000</text>
<text x="37.3" y="455.28" font-family="Liberation Sans" font-size="5.8" text-anchor="end" textLength="21.94" lengthAdjust="spacingAndGlyphs" fill="#000" fill-opacity="0.95">400000</text>
<text x="37.3" y="440.4" font-family="Liberation Sans" font-size="5.8" text-anchor="end" textLength="21.94" lengthAdjust="spacingAndGlyphs" fill="#000" fill-opacity="0.95">450000</text>
<rect x="265.9" y="438.3" width="188.7" height="133.9" fill="none" stroke="#6e6e6e" stroke-width="1.2"/>
<clipPath id="c8"><rect x="265.9" y="438.3" width="188.7" height="133.9"/></clipPath>
<g clip-path="url(#c8)">
<path d="M265.9,572.2V559.3H273.45V533.9H281V511.4H288.54V491.1H296.09V476.4H303.64V465.9H311.19V459.5H318.74V458H326.28V458.8H333.83V461.3H341.38V463.6H348.93V466.3H356.48V466.3H364.02V466.3H371.57V463.6H379.12V461.3H386.67V458.3H394.22V458H401.76V459.7H409.31V465.9H416.86V476.4H424.41V490.9H431.96V511.4H439.5V533.9H447.05V558.8H454.6V572.2Z" fill="#d3d3d3" stroke="none"/>
<path d="M265.9,572.2V559.3H273.45V533.9H281V511.4H288.54V491.1H296.09V476.4H303.64V465.9H311.19V459.5H318.74V458H326.28V458.8H333.83V461.3H341.38V463.6H348.93V466.3H356.48V466.3H364.02V466.3H371.57V463.6H379.12V461.3H386.67V458.3H394.22V458H401.76V459.7H409.31V465.9H416.86V476.4H424.41V490.9H431.96V511.4H439.5V533.9H447.05V558.8H454.6V572.2" fill="none" stroke="#ff0000" stroke-width="1.15" stroke-linejoin="miter"/>
<path d="M265.9,572.2V556.3H273.45V527.3H281V504.4H288.54V490.6H296.09V482H303.64V476.4H311.19V472.2H318.74V467.9H326.28V464.4H333.83V460.8H341.38V457.1H348.93V455.2H356.48V454.7H364.02V455.2H371.57V456.2H379.12V460.1H386.67V463.4H394.22V467.5H401.76V471.7H409.31V475.9H416.86V480.9H424.41V490.4H431.96V504.2H439.5V527.1H447.05V556.1H454.6V572.2" fill="none" stroke="#0000ff" stroke-width="1.15" stroke-linejoin="miter"/>
</g>
<line x1="265.6" y1="572.2" x2="454.9" y2="572.2" stroke="#3c3c3c" stroke-width="1.1"/>
<path d="M295.93,572.2v-2.2M295.93,438.3v2.2M325.97,572.2v-2.2M325.97,438.3v2.2M356,572.2v-2.2M356,438.3v2.2M386.03,572.2v-2.2M386.03,438.3v2.2M416.06,572.2v-2.2M416.06,438.3v2.2M446.1,572.2v-2.2M446.1,438.3v2.2M265.9,549.88h2.2M454.6,549.88h-2.2M265.9,527.57h2.2M454.6,527.57h-2.2M265.9,505.25h2.2M454.6,505.25h-2.2M265.9,482.93h2.2M454.6,482.93h-2.2M265.9,460.62h2.2M454.6,460.62h-2.2" stroke="#8a8a8a" stroke-width="0.8" fill="none"/>
<text x="265.9" y="578.6" font-family="Liberation Sans" font-size="5.8" text-anchor="middle" textLength="9.14" lengthAdjust="spacingAndGlyphs" fill="#000" fill-opacity="0.95">0.0</text>
<text x="295.93" y="578.6" font-family="Liberation Sans" font-size="5.8" text-anchor="middle" textLength="9.14" lengthAdjust="spacingAndGlyphs" fill="#000" fill-opacity="0.95">0.5</text>
<text x="325.97" y="578.6" font-family="Liberation Sans" font-size="5.8" text-anchor="middle" textLength="9.14" lengthAdjust="spacingAndGlyphs" fill="#000" fill-opacity="0.95">1.0</text>
<text x="356" y="578.6" font-family="Liberation Sans" font-size="5.8" text-anchor="middle" textLength="9.14" lengthAdjust="spacingAndGlyphs" fill="#000" fill-opacity="0.95">1.5</text>
<text x="386.03" y="578.6" font-family="Liberation Sans" font-size="5.8" text-anchor="middle" textLength="9.14" lengthAdjust="spacingAndGlyphs" fill="#000" fill-opacity="0.95">2.0</text>
<text x="416.06" y="578.6" font-family="Liberation Sans" font-size="5.8" text-anchor="middle" textLength="9.14" lengthAdjust="spacingAndGlyphs" fill="#000" fill-opacity="0.95">2.5</text>
<text x="446.1" y="578.6" font-family="Liberation Sans" font-size="5.8" text-anchor="middle" textLength="9.14" lengthAdjust="spacingAndGlyphs" fill="#000" fill-opacity="0.95">3.0</text>
<text x="263.7" y="574.3" font-family="Liberation Sans" font-size="5.8" text-anchor="end" textLength="3.66" lengthAdjust="spacingAndGlyphs" fill="#000" fill-opacity="0.95">0</text>
<text x="263.7" y="551.98" font-family="Liberation Sans" font-size="5.8" text-anchor="end" textLength="18.29" lengthAdjust="spacingAndGlyphs" fill="#000" fill-opacity="0.95">20000</text>
<text x="263.7" y="529.67" font-family="Liberation Sans" font-size="5.8" text-anchor="end" textLength="18.29" lengthAdjust="spacingAndGlyphs" fill="#000" fill-opacity="0.95">40000</text>
<text x="263.7" y="507.35" font-family="Liberation Sans" font-size="5.8" text-anchor="end" textLength="18.29" lengthAdjust="spacingAndGlyphs" fill="#000" fill-opacity="0.95">60000</text>
<text x="263.7" y="485.03" font-family="Liberation Sans" font-size="5.8" text-anchor="end" textLength="18.29" lengthAdjust="spacingAndGlyphs" fill="#000" fill-opacity="0.95">80000</text>
<text x="263.7" y="462.72" font-family="Liberation Sans" font-size="5.8" text-anchor="end" textLength="21.94" lengthAdjust="spacingAndGlyphs" fill="#000" fill-opacity="0.95">100000</text>
<text x="263.7" y="440.4" font-family="Liberation Sans" font-size="5.8" text-anchor="end" textLength="21.94" lengthAdjust="spacingAndGlyphs" fill="#000" fill-opacity="0.95">120000</text>
<rect x="492.5" y="438.3" width="188" height="133.9" fill="none" stroke="#6e6e6e" stroke-width="1.2"/>
<clipPath id="c9"><rect x="492.5" y="438.3" width="188" height="133.9"/></clipPath>
<g clip-path="url(#c9)">
<path d="M492.5,572.2V513.4H500.02V513.4H507.54V513.4H515.06V513.4H522.58V513.4H530.1V513.4H537.62V513.4H545.14V513.4H552.66V513.4H560.18V513.4H567.7V513.4H575.22V513.4H582.74V513.4H590.26V513.4H597.78V513.4H605.3V513.4H612.82V513.4H620.34V513.4H627.86V513.4H635.38V513.4H642.9V513.4H650.42V513.4H657.94V513.4H665.46V513.4H672.98V513.4H680.5V572.2Z" fill="#d3d3d3" stroke="none"/>
<path d="M492.5,572.2V513.4H500.02V513.4H507.54V513.4H515.06V513.4H522.58V513.4H530.1V513.4H537.62V513.4H545.14V513.4H552.66V513.4H560.18V513.4H567.7V513.4H575.22V513.4H582.74V513.4H590.26V513.4H597.78V513.4H605.3V513.4H612.82V513.4H620.34V513.4H627.86V513.4H635.38V513.4H642.9V513.4H650.42V513.4H657.94V513.4H665.46V513.4H672.98V513.4H680.5V572.2" fill="none" stroke="#000" stroke-width="1.0" stroke-linejoin="miter"/>
<path d="M492.5,572.2V512.6H500.02V512.7H507.54V512.9H515.06V513H522.58V512.9H530.1V512.7H537.62V512.9H545.14V512.8H552.66V512.7H560.18V512.9H567.7V513H575.22V512.8H582.74V512.6H590.26V512.7H597.78V512.9H605.3V513H612.82V512.8H620.34V512.7H627.86V512.6H635.38V512.8H642.9V513H650.42V512.9H657.94V512.7H665.46V512.6H672.98V512.8H680.5V572.2" fill="none" stroke="#ff0000" stroke-width="1.15" stroke-linejoin="miter"/>
<path d="M492.5,572.2V513.1H500.02V514.9H507.54V517H515.06V517H522.58V514.6H530.1V510.8H537.62V507.3H545.14V508.1H552.66V511.9H560.18V514.7H567.7V514.9H575.22V513.5H582.74V511.4H590.26V510.2H597.78V512.5H605.3V514.3H612.82V513.7H620.34V512.5H627.86V508.4H635.38V507.3H642.9V511.4H650.42V515.4H657.94V517H665.46V516.3H672.98V513.7H680.5V572.2" fill="none" stroke="#0000ff" stroke-width="1.15" stroke-linejoin="miter"/>
</g>
<line x1="492.2" y1="572.2" x2="680.8" y2="572.2" stroke="#3c3c3c" stroke-width="1.1"/>
<path d="M496.74,572.2v-2.2M496.74,438.3v2.2M526.66,572.2v-2.2M526.66,438.3v2.2M556.58,572.2v-2.2M556.58,438.3v2.2M586.5,572.2v-2.2M586.5,438.3v2.2M616.42,572.2v-2.2M616.42,438.3v2.2M646.34,572.2v-2.2M646.34,438.3v2.2M676.26,572.2v-2.2M676.26,438.3v2.2M492.5,557.32h2.2M680.5,557.32h-2.2M492.5,542.44h2.2M680.5,542.44h-2.2M492.5,527.57h2.2M680.5,527.57h-2.2M492.5,512.69h2.2M680.5,512.69h-2.2M492.5,497.81h2.2M680.5,497.81h-2.2M492.5,482.93h2.2M680.5,482.93h-2.2M492.5,468.06h2.2M680.5,468.06h-2.2M492.5,453.18h2.2M680.5,453.18h-2.2" stroke="#8a8a8a" stroke-width="0.8" fill="none"/>
<text x="496.74" y="578.6" font-family="Liberation Sans" font-size="5.8" text-anchor="middle" textLength="8.48" lengthAdjust="spacingAndGlyphs" fill="#000" fill-opacity="0.95">−3</text>
<text x="526.66" y="578.6" font-family="Liberation Sans" font-size="5.8" text-anchor="middle" textLength="8.48" lengthAdjust="spacingAndGlyphs" fill="#000" fill-opacity="0.95">−2</text>
<text x="556.58" y="578.6" font-family="Liberation Sans" font-size="5.8" text-anchor="middle" textLength="8.48" lengthAdjust="spacingAndGlyphs" fill="#000" fill-opacity="0.95">−1</text>
<text x="586.5" y="578.6" font-family="Liberation Sans" font-size="5.8" text-anchor="middle" textLength="3.66" lengthAdjust="spacingAndGlyphs" fill="#000" fill-opacity="0.95">0</text>
<text x="616.42" y="578.6" font-family="Liberation Sans" font-size="5.8" text-anchor="middle" textLength="3.66" lengthAdjust="spacingAndGlyphs" fill="#000" fill-opacity="0.95">1</text>
<text x="646.34" y="578.6" font-family="Liberation Sans" font-size="5.8" text-anchor="middle" textLength="3.66" lengthAdjust="spacingAndGlyphs" fill="#000" fill-opacity="0.95">2</text>
<text x="676.26" y="578.6" font-family="Liberation Sans" font-size="5.8" text-anchor="middle" textLength="3.66" lengthAdjust="spacingAndGlyphs" fill="#000" fill-opacity="0.95">3</text>
<text x="490.3" y="574.3" font-family="Liberation Sans" font-size="5.8" text-anchor="end" textLength="3.66" lengthAdjust="spacingAndGlyphs" fill="#000" fill-opacity="0.95">0</text>
<text x="490.3" y="559.42" font-family="Liberation Sans" font-size="5.8" text-anchor="end" textLength="18.29" lengthAdjust="spacingAndGlyphs" fill="#000" fill-opacity="0.95">20000</text>
<text x="490.3" y="544.54" font-family="Liberation Sans" font-size="5.8" text-anchor="end" textLength="18.29" lengthAdjust="spacingAndGlyphs" fill="#000" fill-opacity="0.95">40000</text>
<text x="490.3" y="529.67" font-family="Liberation Sans" font-size="5.8" text-anchor="end" textLength="18.29" lengthAdjust="spacingAndGlyphs" fill="#000" fill-opacity="0.95">60000</text>
<text x="490.3" y="514.79" font-family="Liberation Sans" font-size="5.8" text-anchor="end" textLength="18.29" lengthAdjust="spacingAndGlyphs" fill="#000" fill-opacity="0.95">80000</text>
<text x="490.3" y="499.91" font-family="Liberation Sans" font-size="5.8" text-anchor="end" textLength="21.94" lengthAdjust="spacingAndGlyphs" fill="#000" fill-opacity="0.95">100000</text>
<text x="490.3" y="485.03" font-family="Liberation Sans" font-size="5.8" text-anchor="end" textLength="21.94" lengthAdjust="spacingAndGlyphs" fill="#000" fill-opacity="0.95">120000</text>
<text x="490.3" y="470.16" font-family="Liberation Sans" font-size="5.8" text-anchor="end" textLength="21.94" lengthAdjust="spacingAndGlyphs" fill="#000" fill-opacity="0.95">140000</text>
<text x="490.3" y="455.28" font-family="Liberation Sans" font-size="5.8" text-anchor="end" textLength="21.94" lengthAdjust="spacingAndGlyphs" fill="#000" fill-opacity="0.95">160000</text>
<text x="490.3" y="440.4" font-family="Liberation Sans" font-size="5.8" text-anchor="end" textLength="21.94" lengthAdjust="spacingAndGlyphs" fill="#000" fill-opacity="0.95">180000</text>
<rect x="39.5" y="599.6" width="188.9" height="133.6" fill="none" stroke="#6e6e6e" stroke-width="1.2"/>
<clipPath id="c10"><rect x="39.5" y="599.6" width="188.9" height="133.6"/></clipPath>
<g clip-path="url(#c10)">
<path d="M148.1,760V730.3H153.8V730.3H159.5V618.3H165.2V760Z" fill="#d3d3d3" stroke="none"/>
<path d="M159.5,760V618.3H165.2V760Z" fill="none" stroke="#000" stroke-width="1.0" stroke-linejoin="miter"/>
<path d="M148.1,760V730.3H153.8V730.3H159.5V618.3H165.2V760Z" fill="none" stroke="#ff0000" stroke-width="1.15" stroke-linejoin="miter"/>
<path d="M33.79,760V665.4H39.5V665.2H45.21V665H50.93V664.8H56.64V663.8H62.36V663.5H68.07V662.8H73.78V662H79.5V661.3H85.21V660.6H90.93V659.9H96.64V658.8H102.35V658.1H108.07V657.2H113.78V656.2H119.5V655.2H125.21V654H130.92V653.2H136.64V651.7H142.35V649H148.07V645.9H153.78V640.4H159.49V623.5H165.21V760Z" fill="none" stroke="#0000ff" stroke-width="1.15" stroke-linejoin="miter"/>
</g>
<line x1="39.2" y1="733.2" x2="228.7" y2="733.2" stroke="#3c3c3c" stroke-width="1.1"/>
<path d="M70.98,733.2v-2.2M70.98,599.6v2.2M102.47,733.2v-2.2M102.47,599.6v2.2M133.95,733.2v-2.2M133.95,599.6v2.2M165.43,733.2v-2.2M165.43,599.6v2.2M196.92,733.2v-2.2M196.92,599.6v2.2M39.5,714.11h2.2M228.4,714.11h-2.2M39.5,695.03h2.2M228.4,695.03h-2.2M39.5,675.94h2.2M228.4,675.94h-2.2M39.5,656.86h2.2M228.4,656.86h-2.2M39.5,637.77h2.2M228.4,637.77h-2.2M39.5,618.69h2.2M228.4,618.69h-2.2M39.5,727.45h1.2M228.4,727.45h-1.2M39.5,724.09h1.2M228.4,724.09h-1.2M39.5,721.71h1.2M228.4,721.71h-1.2M39.5,719.86h1.2M228.4,719.86h-1.2M39.5,718.35h1.2M228.4,718.35h-1.2M39.5,717.07h1.2M228.4,717.07h-1.2M39.5,715.96h1.2M228.4,715.96h-1.2M39.5,714.99h1.2M228.4,714.99h-1.2M39.5,708.37h1.2M228.4,708.37h-1.2M39.5,705.01h1.2M228.4,705.01h-1.2M39.5,702.62h1.2M228.4,702.62h-1.2M39.5,700.77h1.2M228.4,700.77h-1.2M39.5,699.26h1.2M228.4,699.26h-1.2M39.5,697.98h1.2M228.4,697.98h-1.2M39.5,696.88h1.2M228.4,696.88h-1.2M39.5,695.9h1.2M228.4,695.9h-1.2M39.5,689.28h1.2M228.4,689.28h-1.2M39.5,685.92h1.2M228.4,685.92h-1.2M39.5,683.54h1.2M228.4,683.54h-1.2M39.5,681.69h1.2M228.4,681.69h-1.2M39.5,680.18h1.2M228.4,680.18h-1.2M39.5,678.9h1.2M228.4,678.9h-1.2M39.5,677.79h1.2M228.4,677.79h-1.2M39.5,676.82h1.2M228.4,676.82h-1.2M39.5,670.2h1.2M228.4,670.2h-1.2M39.5,666.84h1.2M228.4,666.84h-1.2M39.5,664.45h1.2M228.4,664.45h-1.2M39.5,662.6h1.2M228.4,662.6h-1.2M39.5,661.09h1.2M228.4,661.09h-1.2M39.5,659.81h1.2M228.4,659.81h-1.2M39.5,658.71h1.2M228.4,658.71h-1.2M39.5,657.73h1.2M228.4,657.73h-1.2M39.5,651.11h1.2M228.4,651.11h-1.2M39.5,647.75h1.2M228.4,647.75h-1.2M39.5,645.37h1.2M228.4,645.37h-1.2M39.5,643.52h1.2M228.4,643.52h-1.2M39.5,642.01h1.2M228.4,642.01h-1.2M39.5,640.73h1.2M228.4,640.73h-1.2M39.5,639.62h1.2M228.4,639.62h-1.2M39.5,638.64h1.2M228.4,638.64h-1.2M39.5,632.03h1.2M228.4,632.03h-1.2M39.5,628.67h1.2M228.4,628.67h-1.2M39.5,626.28h1.2M228.4,626.28h-1.2M39.5,624.43h1.2M228.4,624.43h-1.2M39.5,622.92h1.2M228.4,622.92h-1.2M39.5,621.64h1.2M228.4,621.64h-1.2M39.5,620.54h1.2M228.4,620.54h-1.2M39.5,619.56h1.2M228.4,619.56h-1.2M39.5,612.94h1.2M228.4,612.94h-1.2M39.5,609.58h1.2M228.4,609.58h-1.2M39.5,607.19h1.2M228.4,607.19h-1.2M39.5,605.35h1.2M228.4,605.35h-1.2M39.5,603.83h1.2M228.4,603.83h-1.2M39.5,602.56h1.2M228.4,602.56h-1.2M39.5,601.45h1.2M228.4,601.45h-1.2M39.5,600.47h1.2M228.4,600.47h-1.2" stroke="#8a8a8a" stroke-width="0.8" fill="none"/>
<text x="39.5" y="739.6" font-family="Liberation Sans" font-size="5.8" text-anchor="middle" textLength="12.8" lengthAdjust="spacingAndGlyphs" fill="#000" fill-opacity="0.95">89.0</text>
<text x="70.98" y="739.6" font-family="Liberation Sans" font-size="5.8" text-anchor="middle" textLength="12.8" lengthAdjust="spacingAndGlyphs" fill="#000" fill-opacity="0.95">89.5</text>
<text x="102.47" y="739.6" font-family="Liberation Sans" font-size="5.8" text-anchor="middle" textLength="12.8" lengthAdjust="spacingAndGlyphs" fill="#000" fill-opacity="0.95">90.0</text>
<text x="133.95" y="739.6" font-family="Liberation Sans" font-size="5.8" text-anchor="middle" textLength="12.8" lengthAdjust="spacingAndGlyphs" fill="#000" fill-opacity="0.95">90.5</text>
<text x="165.43" y="739.6" font-family="Liberation Sans" font-size="5.8" text-anchor="middle" textLength="12.8" lengthAdjust="spacingAndGlyphs" fill="#000" fill-opacity="0.95">91.0</text>
<text x="196.92" y="739.6" font-family="Liberation Sans" font-size="5.8" text-anchor="middle" textLength="12.8" lengthAdjust="spacingAndGlyphs" fill="#000" fill-opacity="0.95">91.5</text>
<text x="228.4" y="739.6" font-family="Liberation Sans" font-size="5.8" text-anchor="middle" textLength="12.8" lengthAdjust="spacingAndGlyphs" fill="#000" fill-opacity="0.95">92.0</text>
<text x="34.2" y="734.6" font-family="Liberation Sans" font-size="5.8" text-anchor="end" textLength="6.4" lengthAdjust="spacingAndGlyphs" fill="#000">10</text>
<text x="35.3" y="732.5" font-family="Liberation Sans" font-size="3.8" text-anchor="start" textLength="2.4" lengthAdjust="spacingAndGlyphs" fill="#000">0</text>
<text x="34.2" y="715.51" font-family="Liberation Sans" font-size="5.8" text-anchor="end" textLength="6.4" lengthAdjust="spacingAndGlyphs" fill="#000">10</text>
<text x="35.3" y="713.41" font-family="Liberation Sans" font-size="3.8" text-anchor="start" textLength="2.4" lengthAdjust="spacingAndGlyphs" fill="#000">1</text>
<text x="34.2" y="696.43" font-family="Liberation Sans" font-size="5.8" text-anchor="end" textLength="6.4" lengthAdjust="spacingAndGlyphs" fill="#000">10</text>
<text x="35.3" y="694.33" font-family="Liberation Sans" font-size="3.8" text-anchor="start" textLength="2.4" lengthAdjust="spacingAndGlyphs" fill="#000">2</text>
<text x="34.2" y="677.34" font-family="Liberation Sans" font-size="5.8" text-anchor="end" textLength="6.4" lengthAdjust="spacingAndGlyphs" fill="#000">10</text>
<text x="35.3" y="675.24" font-family="Liberation Sans" font-size="3.8" text-anchor="start" textLength="2.4" lengthAdjust="spacingAndGlyphs" fill="#000">3</text>
<text x="34.2" y="658.26" font-family="Liberation Sans" font-size="5.8" text-anchor="end" textLength="6.4" lengthAdjust="spacingAndGlyphs" fill="#000">10</text>
<text x="35.3" y="656.16" font-family="Liberation Sans" font-size="3.8" text-anchor="start" textLength="2.4" lengthAdjust="spacingAndGlyphs" fill="#000">4</text>
<text x="34.2" y="639.17" font-family="Liberation Sans" font-size="5.8" text-anchor="end" textLength="6.4" lengthAdjust="spacingAndGlyphs" fill="#000">10</text>
<text x="35.3" y="637.07" font-family="Liberation Sans" font-size="3.8" text-anchor="start" textLength="2.4" lengthAdjust="spacingAndGlyphs" fill="#000">5</text>
<text x="34.2" y="620.09" font-family="Liberation Sans" font-size="5.8" text-anchor="end" textLength="6.4" lengthAdjust="spacingAndGlyphs" fill="#000">10</text>
<text x="35.3" y="617.99" font-family="Liberation Sans" font-size="3.8" text-anchor="start" textLength="2.4" lengthAdjust="spacingAndGlyphs" fill="#000">6</text>
<text x="34.2" y="601" font-family="Liberation Sans" font-size="5.8" text-anchor="end" textLength="6.4" lengthAdjust="spacingAndGlyphs" fill="#000">10</text>
<text x="35.3" y="598.9" font-family="Liberation Sans" font-size="3.8" text-anchor="start" textLength="2.4" lengthAdjust="spacingAndGlyphs" fill="#000">7</text>
<rect x="265.9" y="599.6" width="188.7" height="133.6" fill="none" stroke="#6e6e6e" stroke-width="1.2"/>
<clipPath id="c11"><rect x="265.9" y="599.6" width="188.7" height="133.6"/></clipPath>
<g clip-path="url(#c11)">
<path d="M326.4,760V607.2H330.4V760Z" fill="#d3d3d3" stroke="none"/>
<path d="M326.4,760V607.2H330.4V760Z" fill="none" stroke="#000" stroke-width="1.4" stroke-linejoin="miter"/>
<path d="M305.5,760L305.5,730.5L309.5,730.5L309.5,702.3L313.1,702.3L313.1,678.2L316.4,678.2L316.4,649.6L319.3,649.6L319.3,626.4L323.3,626.4L323.3,621.5L326.4,621.5L326.4,612.2L330.4,612.2L330.4,624.3L333.4,624.3L333.4,631.2L337.3,631.2L337.3,646.1L340.4,646.1L340.4,655.1L343.6,655.1L343.6,677.2L347.4,677.2L347.4,687.7L351.1,687.7L351.1,696.2L354.5,696.2L354.5,708.2L357.7,708.2L357.7,719.1L361.3,719.1L361.3,760L364.2,760L364.2,721.3L367.9,721.3L367.9,724.2L371.5,724.2L371.5,730.8L375.2,730.8L375.2,760L378.5,760L378.5,730.5L385.4,730.5L385.4,760Z" fill="none" stroke="#ff0000" stroke-width="1.15"/>
<path d="M264.8,760L264.8,673L268.3,673L268.3,670.2L271.6,670.2L271.6,666.6L275.2,666.6L275.2,664.4L278.6,664.4L278.6,661.3L282,661.3L282,659L285.5,659L285.5,656.5L288.9,656.5L288.9,654.8L292.4,654.8L292.4,653.3L295.8,653.3L295.8,651.5L299.4,651.5L299.4,650.5L303,650.5L303,649.4L306.5,649.4L306.5,648.6L310,648.6L310,648.1L313.5,648.1L313.5,648.3L317,648.3L317,649.3L320,649.3L320,652.6L323,652.6L323,656.6L326.4,656.6L326.4,612.5L330.4,612.5L330.4,657.2L333.7,657.2L333.7,652L337.2,652L337.2,649.3L340.6,649.3L340.6,646.14L344.1,646.14L344.1,644.94L347.6,644.94L347.6,644.1L351.1,644.1L351.1,643.43L354.6,643.43L354.6,642.93L358.1,642.93L358.1,642.6L361.6,642.6L361.6,642.34L365.1,642.34L365.1,642.2L368.6,642.2L368.6,642.09L372.1,642.09L372.1,642.07L375.6,642.07L375.6,642.04L379.1,642.04L379.1,642.02L382.6,642.02L382.6,641.99L386.1,641.99L386.1,641.92L389.6,641.92L389.6,641.84L393.1,641.84L393.1,641.77L396.6,641.77L396.6,641.7L400.1,641.7L400.1,641.46L403.6,641.46L403.6,641.22L407.1,641.22L407.1,640.9L410.6,640.9L410.6,640.56L414.1,640.56L414.1,640.27L417.6,640.27L417.6,639.98L421.1,639.98L421.1,639.68L426,639.68L426,640.4L429.7,640.4L429.7,641.5L433.2,641.5L433.2,645.2L436.8,645.2L436.8,649L440.4,649L440.4,653.6L443.9,653.6L443.9,658.6L447.3,658.6L447.3,663.4L450.7,663.4L450.7,667.1L454.2,667.1L454.2,670.5L457.7,670.5L457.7,760Z" fill="none" stroke="#0000ff" stroke-width="1.15"/>
</g>
<line x1="265.6" y1="733.2" x2="454.9" y2="733.2" stroke="#3c3c3c" stroke-width="1.1"/>
<path d="M297.35,733.2v-2.2M297.35,599.6v2.2M328.8,733.2v-2.2M328.8,599.6v2.2M360.25,733.2v-2.2M360.25,599.6v2.2M391.7,733.2v-2.2M391.7,599.6v2.2M423.15,733.2v-2.2M423.15,599.6v2.2M265.9,714.11h2.2M454.6,714.11h-2.2M265.9,695.03h2.2M454.6,695.03h-2.2M265.9,675.94h2.2M454.6,675.94h-2.2M265.9,656.86h2.2M454.6,656.86h-2.2M265.9,637.77h2.2M454.6,637.77h-2.2M265.9,618.69h2.2M454.6,618.69h-2.2M265.9,727.45h1.2M454.6,727.45h-1.2M265.9,724.09h1.2M454.6,724.09h-1.2M265.9,721.71h1.2M454.6,721.71h-1.2M265.9,719.86h1.2M454.6,719.86h-1.2M265.9,718.35h1.2M454.6,718.35h-1.2M265.9,717.07h1.2M454.6,717.07h-1.2M265.9,715.96h1.2M454.6,715.96h-1.2M265.9,714.99h1.2M454.6,714.99h-1.2M265.9,708.37h1.2M454.6,708.37h-1.2M265.9,705.01h1.2M454.6,705.01h-1.2M265.9,702.62h1.2M454.6,702.62h-1.2M265.9,700.77h1.2M454.6,700.77h-1.2M265.9,699.26h1.2M454.6,699.26h-1.2M265.9,697.98h1.2M454.6,697.98h-1.2M265.9,696.88h1.2M454.6,696.88h-1.2M265.9,695.9h1.2M454.6,695.9h-1.2M265.9,689.28h1.2M454.6,689.28h-1.2M265.9,685.92h1.2M454.6,685.92h-1.2M265.9,683.54h1.2M454.6,683.54h-1.2M265.9,681.69h1.2M454.6,681.69h-1.2M265.9,680.18h1.2M454.6,680.18h-1.2M265.9,678.9h1.2M454.6,678.9h-1.2M265.9,677.79h1.2M454.6,677.79h-1.2M265.9,676.82h1.2M454.6,676.82h-1.2M265.9,670.2h1.2M454.6,670.2h-1.2M265.9,666.84h1.2M454.6,666.84h-1.2M265.9,664.45h1.2M454.6,664.45h-1.2M265.9,662.6h1.2M454.6,662.6h-1.2M265.9,661.09h1.2M454.6,661.09h-1.2M265.9,659.81h1.2M454.6,659.81h-1.2M265.9,658.71h1.2M454.6,658.71h-1.2M265.9,657.73h1.2M454.6,657.73h-1.2M265.9,651.11h1.2M454.6,651.11h-1.2M265.9,647.75h1.2M454.6,647.75h-1.2M265.9,645.37h1.2M454.6,645.37h-1.2M265.9,643.52h1.2M454.6,643.52h-1.2M265.9,642.01h1.2M454.6,642.01h-1.2M265.9,640.73h1.2M454.6,640.73h-1.2M265.9,639.62h1.2M454.6,639.62h-1.2M265.9,638.64h1.2M454.6,638.64h-1.2M265.9,632.03h1.2M454.6,632.03h-1.2M265.9,628.67h1.2M454.6,628.67h-1.2M265.9,626.28h1.2M454.6,626.28h-1.2M265.9,624.43h1.2M454.6,624.43h-1.2M265.9,622.92h1.2M454.6,622.92h-1.2M265.9,621.64h1.2M454.6,621.64h-1.2M265.9,620.54h1.2M454.6,620.54h-1.2M265.9,619.56h1.2M454.6,619.56h-1.2M265.9,612.94h1.2M454.6,612.94h-1.2M265.9,609.58h1.2M454.6,609.58h-1.2M265.9,607.19h1.2M454.6,607.19h-1.2M265.9,605.35h1.2M454.6,605.35h-1.2M265.9,603.83h1.2M454.6,603.83h-1.2M265.9,602.56h1.2M454.6,602.56h-1.2M265.9,601.45h1.2M454.6,601.45h-1.2M265.9,600.47h1.2M454.6,600.47h-1.2" stroke="#8a8a8a" stroke-width="0.8" fill="none"/>
<text x="265.9" y="739.6" font-family="Liberation Sans" font-size="5.8" text-anchor="middle" textLength="12.13" lengthAdjust="spacingAndGlyphs" fill="#000" fill-opacity="0.95">−20</text>
<text x="297.35" y="739.6" font-family="Liberation Sans" font-size="5.8" text-anchor="middle" textLength="12.13" lengthAdjust="spacingAndGlyphs" fill="#000" fill-opacity="0.95">−10</text>
<text x="328.8" y="739.6" font-family="Liberation Sans" font-size="5.8" text-anchor="middle" textLength="3.66" lengthAdjust="spacingAndGlyphs" fill="#000" fill-opacity="0.95">0</text>
<text x="360.25" y="739.6" font-family="Liberation Sans" font-size="5.8" text-anchor="middle" textLength="7.31" lengthAdjust="spacingAndGlyphs" fill="#000" fill-opacity="0.95">10</text>
<text x="391.7" y="739.6" font-family="Liberation Sans" font-size="5.8" text-anchor="middle" textLength="7.31" lengthAdjust="spacingAndGlyphs" fill="#000" fill-opacity="0.95">20</text>
<text x="423.15" y="739.6" font-family="Liberation Sans" font-size="5.8" text-anchor="middle" textLength="7.31" lengthAdjust="spacingAndGlyphs" fill="#000" fill-opacity="0.95">30</text>
<text x="454.6" y="739.6" font-family="Liberation Sans" font-size="5.8" text-anchor="middle" textLength="7.31" lengthAdjust="spacingAndGlyphs" fill="#000" fill-opacity="0.95">40</text>
<text x="260.6" y="734.6" font-family="Liberation Sans" font-size="5.8" text-anchor="end" textLength="6.4" lengthAdjust="spacingAndGlyphs" fill="#000">10</text>
<text x="261.7" y="732.5" font-family="Liberation Sans" font-size="3.8" text-anchor="start" textLength="2.4" lengthAdjust="spacingAndGlyphs" fill="#000">0</text>
<text x="260.6" y="715.51" font-family="Liberation Sans" font-size="5.8" text-anchor="end" textLength="6.4" lengthAdjust="spacingAndGlyphs" fill="#000">10</text>
<text x="261.7" y="713.41" font-family="Liberation Sans" font-size="3.8" text-anchor="start" textLength="2.4" lengthAdjust="spacingAndGlyphs" fill="#000">1</text>
<text x="260.6" y="696.43" font-family="Liberation Sans" font-size="5.8" text-anchor="end" textLength="6.4" lengthAdjust="spacingAndGlyphs" fill="#000">10</text>
<text x="261.7" y="694.33" font-family="Liberation Sans" font-size="3.8" text-anchor="start" textLength="2.4" lengthAdjust="spacingAndGlyphs" fill="#000">2</text>
<text x="260.6" y="677.34" font-family="Liberation Sans" font-size="5.8" text-anchor="end" textLength="6.4" lengthAdjust="spacingAndGlyphs" fill="#000">10</text>
<text x="261.7" y="675.24" font-family="Liberation Sans" font-size="3.8" text-anchor="start" textLength="2.4" lengthAdjust="spacingAndGlyphs" fill="#000">3</text>
<text x="260.6" y="658.26" font-family="Liberation Sans" font-size="5.8" text-anchor="end" textLength="6.4" lengthAdjust="spacingAndGlyphs" fill="#000">10</text>
<text x="261.7" y="656.16" font-family="Liberation Sans" font-size="3.8" text-anchor="start" textLength="2.4" lengthAdjust="spacingAndGlyphs" fill="#000">4</text>
<text x="260.6" y="639.17" font-family="Liberation Sans" font-size="5.8" text-anchor="end" textLength="6.4" lengthAdjust="spacingAndGlyphs" fill="#000">10</text>
<text x="261.7" y="637.07" font-family="Liberation Sans" font-size="3.8" text-anchor="start" textLength="2.4" lengthAdjust="spacingAndGlyphs" fill="#000">5</text>
<text x="260.6" y="620.09" font-family="Liberation Sans" font-size="5.8" text-anchor="end" textLength="6.4" lengthAdjust="spacingAndGlyphs" fill="#000">10</text>
<text x="261.7" y="617.99" font-family="Liberation Sans" font-size="3.8" text-anchor="start" textLength="2.4" lengthAdjust="spacingAndGlyphs" fill="#000">6</text>
<text x="260.6" y="601" font-family="Liberation Sans" font-size="5.8" text-anchor="end" textLength="6.4" lengthAdjust="spacingAndGlyphs" fill="#000">10</text>
<text x="261.7" y="598.9" font-family="Liberation Sans" font-size="3.8" text-anchor="start" textLength="2.4" lengthAdjust="spacingAndGlyphs" fill="#000">7</text>
<rect x="43.3" y="21.9" width="69.2" height="37.6" fill="#ffffff" stroke="#5a5a5a" stroke-width="1.1"/>
<rect x="46.2" y="25.2" width="14" height="3.8" fill="#d3d3d3" stroke="#111" stroke-width="1.2"/>
<text x="66.6" y="29.4" font-family="Liberation Sans" font-size="6.3" text-anchor="start" textLength="42.62" lengthAdjust="spacingAndGlyphs" fill="#000">Monte Carlo</text>
<rect x="46.2" y="34.2" width="14" height="3.8" fill="#fff" stroke="#ff0000" stroke-width="1.2"/>
<text x="66.6" y="38.4" font-family="Liberation Sans" font-size="6.3" text-anchor="start" textLength="21.48" lengthAdjust="spacingAndGlyphs" fill="#000">B-VAE</text>
<rect x="46.2" y="43" width="14" height="3.8" fill="#fff" stroke="#0000ff" stroke-width="1.2"/>
<text x="66.6" y="47.2" font-family="Liberation Sans" font-size="6.3" text-anchor="start" textLength="14.1" lengthAdjust="spacingAndGlyphs" fill="#000">VAE</text>
<rect x="46.2" y="52" width="14" height="3.8" fill="#fff" stroke="#008000" stroke-width="1.2"/>
<text x="66.6" y="56.2" font-family="Liberation Sans" font-size="6.3" text-anchor="start" textLength="15.56" lengthAdjust="spacingAndGlyphs" fill="#000">GAN</text>
<rect x="43.3" y="441.5" width="69.4" height="29" fill="#ffffff" stroke="#5a5a5a" stroke-width="1.1"/>
<rect x="46.2" y="444.6" width="14" height="3.8" fill="#d3d3d3" stroke="#111" stroke-width="1.2"/>
<text x="66.6" y="448.8" font-family="Liberation Sans" font-size="6.3" text-anchor="start" textLength="42.62" lengthAdjust="spacingAndGlyphs" fill="#000">Monte Carlo</text>
<rect x="46.2" y="453.7" width="14" height="3.8" fill="#fff" stroke="#ff0000" stroke-width="1.2"/>
<text x="66.6" y="457.9" font-family="Liberation Sans" font-size="6.3" text-anchor="start" textLength="21.48" lengthAdjust="spacingAndGlyphs" fill="#000">B-VAE</text>
<rect x="46.2" y="462.7" width="14" height="3.8" fill="#fff" stroke="#0000ff" stroke-width="1.2"/>
<text x="66.6" y="466.9" font-family="Liberation Sans" font-size="6.3" text-anchor="start" textLength="14.1" lengthAdjust="spacingAndGlyphs" fill="#000">VAE</text>
<text x="0" y="0" transform="translate(20.2,83.5) rotate(-90)" font-family="Liberation Sans" font-size="7.2" text-anchor="middle" textLength="108.6" lengthAdjust="spacingAndGlyphs" fill="#000">number of events (normalized to 1)</text>
<text x="0" y="0" transform="translate(24,243.8) rotate(-90)" font-family="Liberation Sans" font-size="7.2" text-anchor="middle" textLength="108" lengthAdjust="spacingAndGlyphs" fill="#000">number of events (normalized to 2)</text>
<text x="0" y="0" transform="translate(10.6,505.8) rotate(-90)" font-family="Liberation Sans" font-size="7.2" text-anchor="middle" textLength="77" lengthAdjust="spacingAndGlyphs" fill="#000">number of events (a.u.)</text>
<text x="0" y="0" transform="translate(22.6,666.7) rotate(-90)" font-family="Liberation Sans" font-size="7.2" text-anchor="middle" textLength="75.7" lengthAdjust="spacingAndGlyphs" fill="#000">number of events (a.u.)</text>
<text x="101.4" y="166.6" font-family="Liberation Serif" font-size="7.2" font-style="italic" textLength="3.6" lengthAdjust="spacingAndGlyphs" fill="#000">p</text>
<text x="105.1" y="167.6" font-family="Liberation Serif" font-size="4.6" font-style="italic" textLength="2.6" lengthAdjust="spacingAndGlyphs" fill="#000">x</text>
<text x="111.4" y="166.6" font-family="Liberation Sans" font-size="7" textLength="55.2" lengthAdjust="spacingAndGlyphs" fill="#000">of particle 1+2</text>
<text x="327.6" y="166.6" font-family="Liberation Serif" font-size="7.2" font-style="italic" textLength="3.6" lengthAdjust="spacingAndGlyphs" fill="#000">p</text>
<text x="331.3" y="167.6" font-family="Liberation Serif" font-size="4.6" font-style="italic" textLength="2.6" lengthAdjust="spacingAndGlyphs" fill="#000">y</text>
<text x="337.6" y="166.6" font-family="Liberation Sans" font-size="7" textLength="55.2" lengthAdjust="spacingAndGlyphs" fill="#000">of particle 1+2</text>
<text x="553.6" y="166.6" font-family="Liberation Serif" font-size="7.2" font-style="italic" textLength="3.6" lengthAdjust="spacingAndGlyphs" fill="#000">p</text>
<text x="557.3" y="167.6" font-family="Liberation Serif" font-size="4.6" font-style="italic" textLength="2.6" lengthAdjust="spacingAndGlyphs" fill="#000">z</text>
<text x="563.6" y="166.6" font-family="Liberation Sans" font-size="7" textLength="55.2" lengthAdjust="spacingAndGlyphs" fill="#000">of particle 1+2</text>
<text x="88.8" y="328.4" font-family="Liberation Serif" font-size="7.4" font-style="italic" textLength="5.3" lengthAdjust="spacingAndGlyphs" fill="#444">E</text>
<text x="94.6" y="325.2" font-family="Liberation Serif" font-size="4.9" textLength="2.3" lengthAdjust="spacingAndGlyphs" fill="#444">2</text>
<path d="M99.5,326.3H103.9" stroke="#444" stroke-width="0.55"/>
<text x="105.5" y="328.4" font-family="Liberation Serif" font-size="7.4" font-style="italic" textLength="4.4" lengthAdjust="spacingAndGlyphs" fill="#444">p</text>
<text x="110.2" y="325.2" font-family="Liberation Serif" font-size="4.9" textLength="2.2" lengthAdjust="spacingAndGlyphs" fill="#444">2</text>
<path d="M115.2,326.3H120.1" stroke="#444" stroke-width="0.55"/>
<text x="122.1" y="328.4" font-family="Liberation Serif" font-size="7.4" font-style="italic" textLength="7.1" lengthAdjust="spacingAndGlyphs" fill="#444">m</text>
<text x="129.7" y="325.2" font-family="Liberation Serif" font-size="4.9" textLength="2.3" lengthAdjust="spacingAndGlyphs" fill="#444">2</text>
<text x="134.9" y="328.4" font-family="Liberation Sans" font-size="7" textLength="44.1" lengthAdjust="spacingAndGlyphs" fill="#000">of particle 1</text>
<text x="315.1" y="328.4" font-family="Liberation Serif" font-size="7.4" font-style="italic" textLength="5.3" lengthAdjust="spacingAndGlyphs" fill="#444">E</text>
<text x="320.9" y="325.2" font-family="Liberation Serif" font-size="4.9" textLength="2.3" lengthAdjust="spacingAndGlyphs" fill="#444">2</text>
<path d="M325.8,326.3H330.2" stroke="#444" stroke-width="0.55"/>
<text x="331.8" y="328.4" font-family="Liberation Serif" font-size="7.4" font-style="italic" textLength="4.4" lengthAdjust="spacingAndGlyphs" fill="#444">p</text>
<text x="336.5" y="325.2" font-family="Liberation Serif" font-size="4.9" textLength="2.2" lengthAdjust="spacingAndGlyphs" fill="#444">2</text>
<path d="M341.5,326.3H346.4" stroke="#444" stroke-width="0.55"/>
<text x="348.4" y="328.4" font-family="Liberation Serif" font-size="7.4" font-style="italic" textLength="7.1" lengthAdjust="spacingAndGlyphs" fill="#444">m</text>
<text x="356" y="325.2" font-family="Liberation Serif" font-size="4.9" textLength="2.3" lengthAdjust="spacingAndGlyphs" fill="#444">2</text>
<text x="361.2" y="328.4" font-family="Liberation Sans" font-size="7" textLength="44.1" lengthAdjust="spacingAndGlyphs" fill="#000">of particle 2</text>
<text x="561" y="327.6" font-family="Liberation Serif" font-size="6.6" font-style="italic" textLength="4" lengthAdjust="spacingAndGlyphs" fill="#000">ϕ</text>
<text x="567.8" y="327.6" font-family="Liberation Sans" font-size="7" textLength="44.1" lengthAdjust="spacingAndGlyphs" fill="#000">of particle 1</text>
<text x="110.6" y="586.6" font-family="Liberation Serif" font-size="7.2" font-style="italic" textLength="3.6" lengthAdjust="spacingAndGlyphs" fill="#000">p</text>
<text x="114.3" y="587.6" font-family="Liberation Serif" font-size="4.8" font-style="italic" textLength="3" lengthAdjust="spacingAndGlyphs" fill="#000">T</text>
<text x="120.7" y="586.6" font-family="Liberation Sans" font-size="7" textLength="36.5" lengthAdjust="spacingAndGlyphs" fill="#000">of leptons</text>
<text x="338.8" y="586.6" font-family="Liberation Serif" font-size="7.8" font-style="italic" textLength="3.6" lengthAdjust="spacingAndGlyphs" fill="#000">θ</text>
<text x="344.8" y="586.6" font-family="Liberation Sans" font-size="7" textLength="36.5" lengthAdjust="spacingAndGlyphs" fill="#000">of leptons</text>
<text x="565.2" y="586.6" font-family="Liberation Serif" font-size="6.6" font-style="italic" textLength="4" lengthAdjust="spacingAndGlyphs" fill="#000">ϕ</text>
<text x="571.1" y="586.6" font-family="Liberation Sans" font-size="7" textLength="36.5" lengthAdjust="spacingAndGlyphs" fill="#000">of leptons</text>
<text x="100.3" y="747" font-family="Liberation Serif" font-size="7" font-style="italic" textLength="7.4" lengthAdjust="spacingAndGlyphs" fill="#000">M</text>
<text x="107.8" y="748.2" font-family="Liberation Serif" font-size="4.6" font-style="italic" textLength="7" lengthAdjust="spacingAndGlyphs" fill="#000">inv</text>
<text x="117.9" y="747" font-family="Liberation Sans" font-size="7" textLength="49.2" lengthAdjust="spacingAndGlyphs" fill="#000">of lepton pair</text>
<text x="279.9" y="747" font-family="Liberation Serif" font-size="7" font-style="italic" textLength="9" lengthAdjust="spacingAndGlyphs" fill="#000">M</text>
<text x="289.3" y="748.2" font-family="Liberation Serif" font-size="4.6" font-style="italic" textLength="4.8" lengthAdjust="spacingAndGlyphs" fill="#000">tot</text>
<text x="297" y="747" font-family="Liberation Sans" font-size="7" textLength="143.6" lengthAdjust="spacingAndGlyphs" fill="#000">of particles (momentum conservation)</text>
</g></svg></div>
</body></html>
